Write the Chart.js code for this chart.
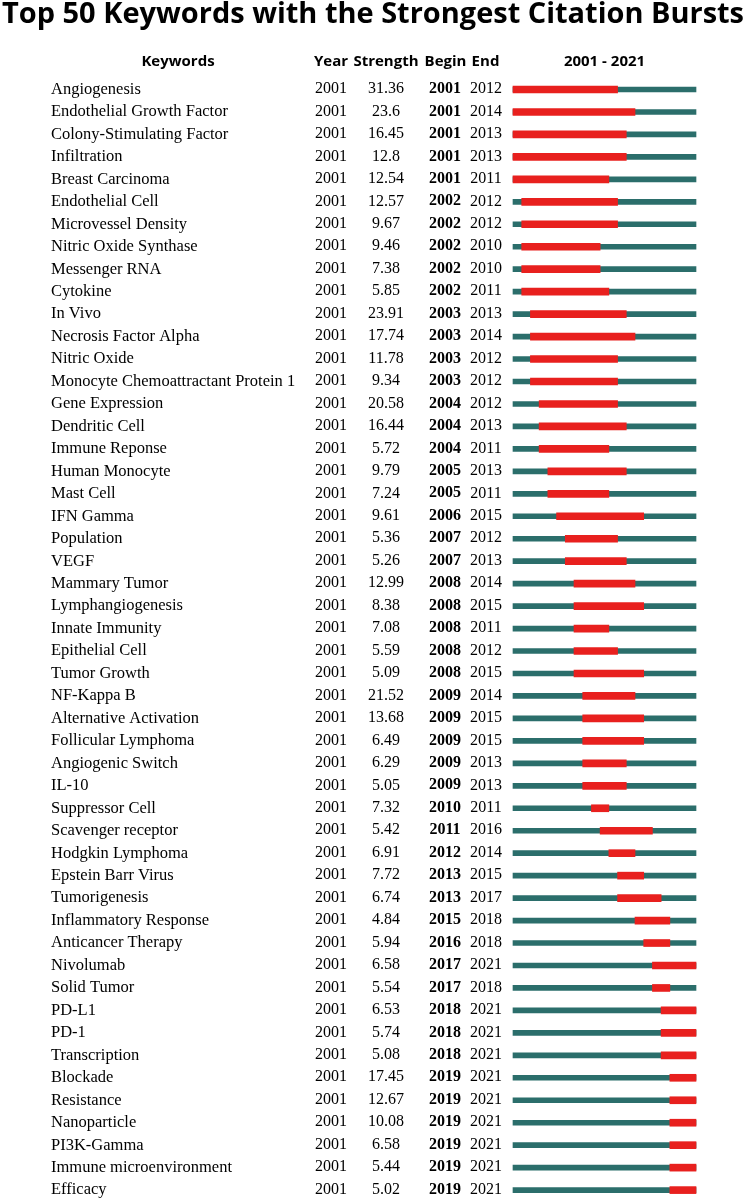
<!DOCTYPE html>
<html>
<head>
<meta charset="utf-8">
<script src="https://cdn.jsdelivr.net/npm/chart.js@4"></script>
<style>
  body { margin: 0; background: #fff; }
  #wrap { width: 746px; height: 1200px; }
</style>
</head>
<body>
<div id="wrap"><canvas id="burstChart"></canvas></div>
<script>
const ctx = document.getElementById('burstChart').getContext('2d');

// datos
const keywords = ['Angiogenesis', 'Endothelial Growth Factor', 'Colony-Stimulating Factor', 'Infiltration',
    'Breast Carcinoma', 'Endothelial Cell', 'Microvessel Density', 'Nitric Oxide Synthase', 'Messenger RNA',
    'Cytokine', 'In Vivo', 'Necrosis Factor Alpha', 'Nitric Oxide', 'Monocyte Chemoattractant Protein 1',
    'Gene Expression', 'Dendritic Cell', 'Immune Reponse', 'Human Monocyte', 'Mast Cell', 'IFN Gamma',
    'Population', 'VEGF', 'Mammary Tumor', 'Lymphangiogenesis', 'Innate Immunity', 'Epithelial Cell',
    'Tumor Growth', 'NF-Kappa B', 'Alternative Activation', 'Follicular Lymphoma', 'Angiogenic Switch',
    'IL-10', 'Suppressor Cell', 'Scavenger receptor', 'Hodgkin Lymphoma', 'Epstein Barr Virus',
    'Tumorigenesis', 'Inflammatory Response', 'Anticancer Therapy', 'Nivolumab', 'Solid Tumor', 'PD-L1',
    'PD-1', 'Transcription', 'Blockade', 'Resistance', 'Nanoparticle', 'PI3K-Gamma',
    'Immune microenvironment', 'Efficacy'];
const years = keywords.map(() => 2001); // columna "Year" (todas 2001)
const strengths = ['31.36', '23.6', '16.45', '12.8', '12.54', '12.57', '9.67', '9.46', '7.38', '5.85',
    '23.91', '17.74', '11.78', '9.34', '20.58', '16.44', '5.72', '9.79', '7.24', '9.61',
    '5.36', '5.26', '12.99', '8.38', '7.08', '5.59', '5.09', '21.52', '13.68', '6.49',
    '6.29', '5.05', '7.32', '5.42', '6.91', '7.72', '6.74', '4.84', '5.94', '6.58',
    '5.54', '6.53', '5.74', '5.08', '17.45', '12.67', '10.08', '6.58', '5.44', '5.02'];
const begins = [2001, 2001, 2001, 2001, 2001, 2002, 2002, 2002, 2002, 2002,
    2003, 2003, 2003, 2003, 2004, 2004, 2004, 2005, 2005, 2006,
    2007, 2007, 2008, 2008, 2008, 2008, 2008, 2009, 2009, 2009,
    2009, 2009, 2010, 2011, 2012, 2013, 2013, 2015, 2016, 2017,
    2017, 2018, 2018, 2018, 2019, 2019, 2019, 2019, 2019, 2019];
const ends = [2012, 2014, 2013, 2013, 2011, 2012, 2012, 2010, 2010, 2011,
    2013, 2014, 2012, 2012, 2012, 2013, 2011, 2013, 2011, 2015,
    2012, 2013, 2014, 2015, 2011, 2012, 2015, 2014, 2015, 2015,
    2013, 2013, 2011, 2016, 2014, 2015, 2017, 2018, 2018, 2021,
    2018, 2021, 2021, 2021, 2021, 2021, 2021, 2021, 2021, 2021];
const firstYear = 2001;
const lastYear = 2021;

const serif = "'Liberation Serif', 'Times New Roman', serif";
const sans = "'Open Sans', 'Noto Sans', sans-serif";

// columnas de texto y encabezados
const tablePlugin = {
    id: 'tablePlugin',
    afterDraw(chart) {
        const c = chart.ctx;
        const y = chart.scales.y;
        const area = chart.chartArea;
        c.save();
        c.fillStyle = '#000';
        c.textAlign = 'center';

        c.font = 'bold 29px ' + sans;
        c.textBaseline = 'alphabetic';
        c.fillText('Top 50 Keywords with the Strongest Citation Bursts', 373, 23, 742);

        c.font = 'bold 15px ' + sans;
        c.textBaseline = 'middle';
        c.fillText('Keywords', 178, 62);
        c.fillText('Year', 331, 62);
        c.fillText('Strength', 386, 62);
        c.fillText('Begin', 445.5, 62);
        c.fillText('End', 485.5, 62);
        c.fillText(firstYear + ' - ' + lastYear, (area.left + area.right) / 2, 62);

        keywords.forEach((k, i) => {
            const py = y.getPixelForValue(i) - 0.5;
            c.font = '16px ' + serif;
            c.fillText(String(years[i]), 331, py);
            c.fillText(strengths[i], 386, py);
            c.fillText(String(ends[i]), 486, py);
            c.font = 'bold 16px ' + serif;
            c.fillText(String(begins[i]), 445, py);
        });
        c.restore();
    }
};

const burstChart = new Chart(ctx, {
    type: 'bar',
    data: {
        labels: keywords,
        datasets: [{
            label: 'Burst',
            data: begins.map((b, i) => [b, ends[i] + 1]),
            backgroundColor: '#e8201e',
            barThickness: 7,
            order: 0
        }, {
            label: 'Timeline',
            data: keywords.map(() => [firstYear, lastYear + 1]),
            backgroundColor: '#2b6e6b',
            barThickness: 5,
            order: 1
        }]
    },
    options: {
        indexAxis: 'y',
        responsive: true,
        maintainAspectRatio: false,
        animation: false,
        clip: false,
        grouped: false,
        layout: {
            padding: { left: 51, right: 50, top: 89.5, bottom: 8.5 }
        },
        plugins: {
            legend: { display: false },
            tooltip: { enabled: false }
        },
        scales: {
            x: {
                display: false,
                min: firstYear,
                max: lastYear + 1
            },
            y: {
                offset: false,
                grid: { display: false, offset: false },
                border: { display: false },
                ticks: {
                    autoSkip: false,
                    crossAlign: 'far',
                    padding: 0,
                    color: '#000',
                    font: { family: serif, size: 16.5 }
                },
                afterFit(scale) {
                    scale.width = 462;
                }
            }
        }
    },
    plugins: [tablePlugin]
});
</script>
</body>
</html>
